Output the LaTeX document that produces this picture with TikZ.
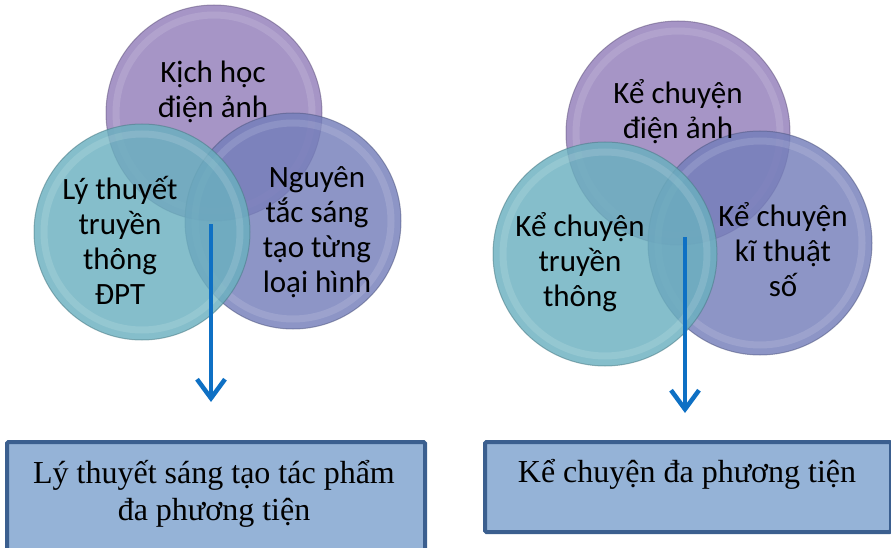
\documentclass[tikz,border=0pt]{standalone}
\usepackage{fontspec}
\setmainfont{Liberation Serif}
\newfontfamily\circfont{Carlito}
\usetikzlibrary{arrows.meta}

\definecolor{topc}{HTML}{927EBA}
\definecolor{leftc}{HTML}{6AB0BF}
\definecolor{rightc}{HTML}{747EBA}
\definecolor{boxfill}{HTML}{95B3D7}
\definecolor{boxedge}{HTML}{3B5F8F}
\definecolor{flowc}{HTML}{0E70C4}

\tikzset{
  venn/.style={circle, minimum size=#1, inner sep=0pt, fill opacity=.82,
    draw opacity=.55, line width=1pt},
  vtext/.style={font=\circfont\fontsize{31}{35}\selectfont, align=center, inner sep=0pt},
  panel/.style={draw=boxedge, fill=boxfill, line width=4pt, rounded corners=1.5pt,
    inner sep=0pt, anchor=north west},
  paneltext/.style={font=\fontsize{32}{37}\selectfont, align=center, inner sep=0pt},
  flow/.style={draw=flowc, line width=4pt,
    -{Straight Barb[length=19pt,width=28pt,line width=4.5pt]}}
}

\begin{document}
\begin{tikzpicture}[x=1pt,y=-1pt]
  \useasboundingbox (0,0) rectangle (891,548);
  %%%%%%%%%%%%%%%%% circles %%%%%%%%%%%%%%%%%%%
  % name/x/y/colour , drawn top, right, left
  \foreach \name/\cx/\cy/\col/\d in
    {lt/214/113/topc/216, lr/293/221/rightc/216, ll/142/232/leftc/216,
     rt/678/133/topc/224, rr/760/243/rightc/224, rl/605/254/leftc/224}
   {\node[venn=\d pt, draw=\col!70!black, fill=\col] (\name) at (\cx,\cy) {};
    \draw[white, line width=7pt, opacity=.13] (\name.center) circle (\d/2-10);}

  %%%%%%%%%%%%%%%%% circle texts %%%%%%%%%%%%%%%%%%%
  \node[vtext] (kich)   at (213,92)  {Kịch học\\điện ảnh};
  \node[vtext] (lythuy) at (120,240) {Lý thuyết\\truyền\\thông\\ĐPT};
  \node[vtext] (nguyen) at (317,232) {Nguyên\\tắc sáng\\tạo từng\\loại hình};
  \node[vtext] (kedien) at (678,112) {Kể chuyện\\điện ảnh};
  \node[vtext] (ketruy) at (580,262) {Kể chuyện\\truyền\\thông};
  \node[vtext] (keso)   at (783,250) {Kể chuyện\\kĩ thuật\\số};

  %%%%%%%%%%%%%%%%% boxes %%%%%%%%%%%%%%%%%%%%%%%
  \node[panel, minimum width=418pt, minimum height=114pt] (lbox) at (5,440) {};
  \node[panel, minimum width=406pt, minimum height=90pt]  (rbox) at (483,440) {};
  \node[paneltext, anchor=base] (ltext) at (214,483) {Lý thuyết sáng tạo tác phẩm};
  \node[paneltext, anchor=base] (ltext2) at (214,520) {đa phương tiện};
  \node[paneltext, anchor=base] (rtext) at (687,482) {Kể chuyện đa phương tiện};

  %%%%%%%%%%%%%%%%% arrows %%%%%%%%%%%%%%%%%%%%%%
  \coordinate (lstart) at (211,224);  \coordinate (lend) at (211,402);
  \coordinate (rstart) at (685,237);  \coordinate (rend) at (685,413);
  \draw[flow] (lstart) -- (lend);
  \draw[flow] (rstart) -- (rend);
\end{tikzpicture}
\end{document}
